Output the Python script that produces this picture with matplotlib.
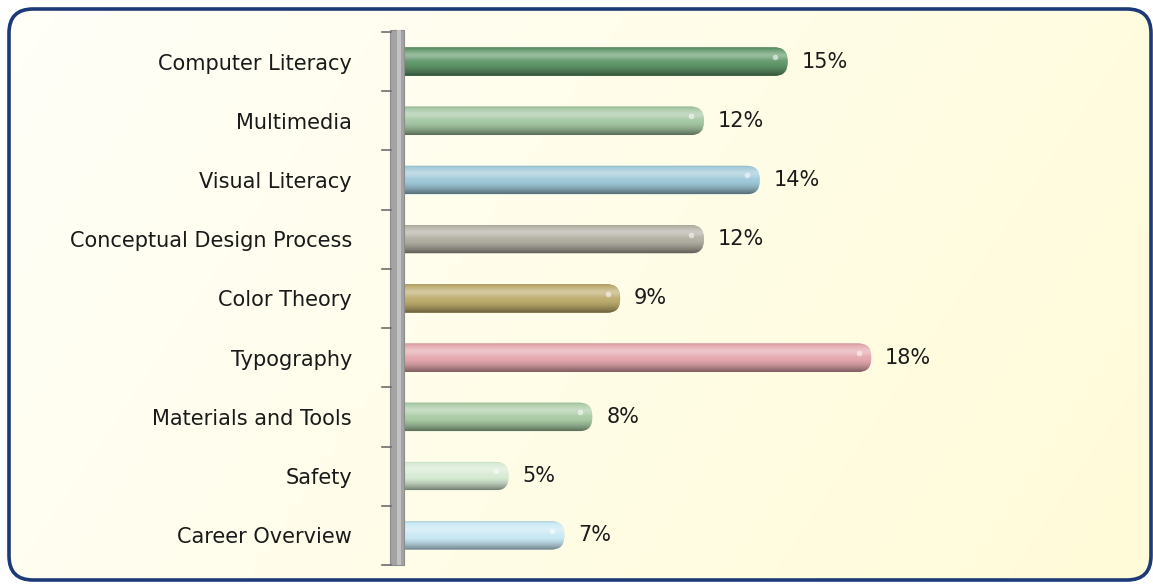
import numpy as np
import matplotlib
matplotlib.use("Agg")
import matplotlib.pyplot as plt
from matplotlib.patches import FancyBboxPatch, Rectangle
from matplotlib.colors import to_rgb
from matplotlib.transforms import Bbox, TransformedBbox

categories = ["Computer Literacy", "Multimedia", "Visual Literacy",
              "Conceptual Design Process", "Color Theory", "Typography",
              "Materials and Tools", "Safety", "Career Overview"]
values = [15, 12, 14, 12, 9, 18, 8, 5, 7]
colors = ["#5f9668", "#a4c6a2", "#9ec8d8", "#b1aea2", "#bcab6c",
          "#e3a7ad", "#a9cba5", "#d6ead2", "#c8e8f4"]

W, H = 1153, 585
plt.rcParams["font.family"] = ["DejaVu Sans"]
fig = plt.figure(figsize=(W / 100, H / 100), dpi=100, facecolor="white")

# Background panel in pixel coordinates
bg = fig.add_axes([0, 0, 1, 1])
bg.set_xlim(0, W)
bg.set_ylim(H, 0)
bg.axis("off")

frame = FancyBboxPatch((9, 9), 1142, 571, boxstyle="round,pad=0,rounding_size=24",
                       facecolor="none", edgecolor="#1d3a78", linewidth=2.6, zorder=3)
clip = FancyBboxPatch((9, 9), 1142, 571, boxstyle="round,pad=0,rounding_size=24",
                      facecolor="none", edgecolor="none", transform=bg.transData)
gx, gy = np.meshgrid(np.linspace(0, 1, 300), np.linspace(0, 1, 150))
t = np.clip(0.75 * gx + 0.25 * gy, 0, 1)
c0 = np.array(to_rgb("#fffff8"))
c1 = np.array(to_rgb("#fffbd8"))
grad = c0[None, None, :] * (1 - t[..., None]) + c1[None, None, :] * t[..., None]
im = bg.imshow(grad, extent=(9, 1151, 580, 9), aspect="auto", zorder=1,
               interpolation="bilinear")
im.set_clip_path(clip)
bg.add_patch(frame)

# Chart axes: the value origin sits behind the side wall
x0_px, x1_px = 369, 1100
y_top, y_bot = 32, 565
px_per_unit = 27.9
ax = fig.add_axes([x0_px / W, (H - y_bot) / H, (x1_px - x0_px) / W, (y_bot - y_top) / H])
ax.set_facecolor("none")
n = len(categories)
ax.set_xlim(0, (x1_px - x0_px) / px_per_unit)
ax.set_ylim(n - 0.5, -0.5)
for s in ax.spines.values():
    s.set_visible(False)
ax.set_xticks([])
ax.set_yticks(np.arange(n))
ax.set_yticklabels(categories, fontsize=15, color="#1a1a1a")
ax.tick_params(axis="y", length=0, pad=(x0_px - 352) * 0.72)

# bars are only visible to the right of the wall
bar_clip = TransformedBbox(Bbox([[394 / W, 0], [1, 1]]), fig.transFigure)

y_px_per_unit = (y_bot - y_top) / n
bar_h = 0.48
aspect = px_per_unit / y_px_per_unit
radius = 13 / px_per_unit

prof = np.linspace(0, 1, 64)
# vertical shading profile of a glossy cylinder (top -> bottom)
shade = (0.35 * np.exp(-((prof - 0.28) / 0.16) ** 2)
         - 0.45 * np.clip((prof - 0.55) / 0.45, 0, 1) ** 1.6
         - 0.15 * np.exp(-(prof / 0.05) ** 2))

for i, (v, col) in enumerate(zip(values, colors)):
    base = np.array(to_rgb(col))
    rows = []
    for s in shade:
        if s >= 0:
            rows.append(base + (1 - base) * s)
        else:
            rows.append(base * (1 + s))
    img = np.array(rows)[:, None, :].repeat(2, axis=1)
    patch = FancyBboxPatch((0, i - bar_h / 2), v, bar_h,
                           boxstyle=f"round,pad=0,rounding_size={radius}",
                           mutation_aspect=aspect, facecolor=col,
                           edgecolor="none", zorder=2)
    ax.add_patch(patch)
    patch.set_clip_box(bar_clip)
    bim = ax.imshow(img, extent=(0, v, i + bar_h / 2, i - bar_h / 2),
                    aspect="auto", zorder=3, interpolation="bilinear")
    bim.set_clip_path(patch)
    bim.set_clip_box(bar_clip)
    # specular highlight near the rounded end
    ax.plot(v - 0.45, i - 0.08, "o", color="white", alpha=0.55,
            markersize=4, zorder=4, markeredgewidth=0)
    ax.text(v + 0.5, i, f"{v}%", va="center", ha="left",
            fontsize=15, color="#1a1a1a", zorder=5)

ax.set_autoscale_on(False)

# Side wall and tick marks
wall = Rectangle((390, y_top - 2), 14, y_bot - y_top + 2, transform=bg.transData,
                 facecolor="#a3a3a3", edgecolor="#8c8c8c", linewidth=0.8,
                 zorder=6, clip_on=False)
ax.add_patch(wall)
hl = Rectangle((397, y_top - 2), 4, y_bot - y_top + 2, transform=bg.transData,
               facecolor="#c2c2c2", edgecolor="none", zorder=6, clip_on=False)
ax.add_patch(hl)
for k in range(n + 1):
    yy = y_top + k * y_px_per_unit
    ax.plot([382, 391], [yy, yy], color="#6e6e6e", linewidth=1.2,
            transform=bg.transData, clip_on=False, zorder=7)

fig.savefig("out.png", dpi=100, facecolor="white")
